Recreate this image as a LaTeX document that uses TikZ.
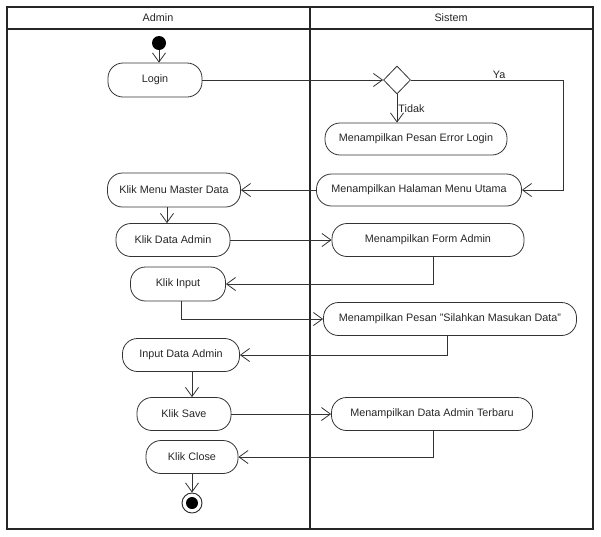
\documentclass[tikz,border=0pt]{standalone}
\usepackage{fontspec}
\setmainfont{Liberation Sans}
\usetikzlibrary{arrows.meta,shapes.geometric}
\begin{document}
\begin{tikzpicture}[x=1pt,y=-1pt,
  font=\fontsize{10.8}{12}\selectfont,
  act/.style={draw=black!80, line width=0.8pt, rounded corners=15pt, minimum height=33pt, inner sep=0pt, text=black!85},
  conn/.style={draw=black!80, line width=0.8pt},
  arr/.style={conn, -{Straight Barb[length=9pt,width=13pt]}},
  lbl/.style={text=black!85, inner sep=1pt}
]
\useasboundingbox (0,0) rectangle (601,536);
% frame
\draw[black!85, line width=1.1pt] (7,7) rectangle (593,529);
\draw[black!85, line width=1.1pt] (7,29) -- (593,29);
\draw[black!85, line width=1.1pt] (310,7) -- (310,529);
\node[lbl] (hadmin) at (158,18) {Admin};
\node[lbl] (hsistem) at (451,18) {Sistem};

% nodes
\node[circle, fill=black, minimum size=14pt, inner sep=0pt] (start) at (159,43) {};
\node[act, minimum width=94pt, minimum height=34pt] (login) at (155,80) {Login};
\node[diamond, draw=black!80, line width=0.8pt, minimum width=27pt, minimum height=28pt, inner sep=0pt] (dec) at (397,80) {};
\node[act, minimum width=182pt, minimum height=32pt] (err) at (416,139) {Menampilkan Pesan Error Login};
\node[act, minimum width=205pt, minimum height=32pt] (menu) at (419,190) {Menampilkan Halaman Menu Utama};
\node[act, minimum width=133pt, minimum height=34pt] (kmd) at (174,190) {Klik Menu Master Data};
\node[act, minimum width=114pt] (kda) at (173,240) {Klik Data Admin};
\node[act, minimum width=192pt] (form) at (428,240) {Menampilkan Form Admin};
\node[act, minimum width=95pt, minimum height=34pt] (kin) at (178,284) {Klik Input};
\node[act, minimum width=253pt] (pesan) at (450,319) {Menampilkan Pesan "Silahkan Masukan Data"};
\node[act, minimum width=117pt] (ida) at (181,355) {Input Data Admin};
\node[act, minimum width=94pt] (save) at (184,414) {Klik Save};
\node[act, minimum width=201pt] (terbaru) at (432,414) {Menampilkan Data Admin Terbaru};
\node[act, minimum width=92pt] (close) at (192,457) {Klik Close};
\node[circle, draw=black!85, line width=0.9pt, minimum size=20pt, inner sep=0pt] (end) at (192,503) {};
\node[circle, fill=black, minimum size=12pt, inner sep=0pt] (endin) at (end.center) {};

\coordinate (yac) at (563,80);

% connectors
\draw[arr] (start) -- (start |- login.north);
\draw[arr] (login.east) -- (dec.west);
\draw[arr] (dec.south) -- (dec.south |- err.north) node[lbl, midway, right, xshift=0pt] {Tidak};
\draw[arr] (dec.east) -- node[lbl, above, pos=0.58] {Ya} (yac) |- (menu.east);
\draw[arr] (menu.west) -- (kmd.east);
\draw[arr] ([xshift=-7pt]kmd.south) -- ([xshift=-7pt]kmd.south |- kda.north);
\draw[arr] (kda.east) -- (form.west);
\draw[arr] ([xshift=5pt]form.south) |- (kin.east);
\draw[arr] ([xshift=3pt]kin.south) |- (pesan.west);
\draw[arr] ([xshift=-3pt]pesan.south) |- (ida.east);
\draw[arr] (ida.south -| close) -- (close |- save.north);
\draw[arr] (save.east) -- (terbaru.west);
\draw[arr] ([xshift=1pt]terbaru.south) |- (close.east);
\draw[arr] (close.south) -- (end.north);
\end{tikzpicture}
\end{document}
